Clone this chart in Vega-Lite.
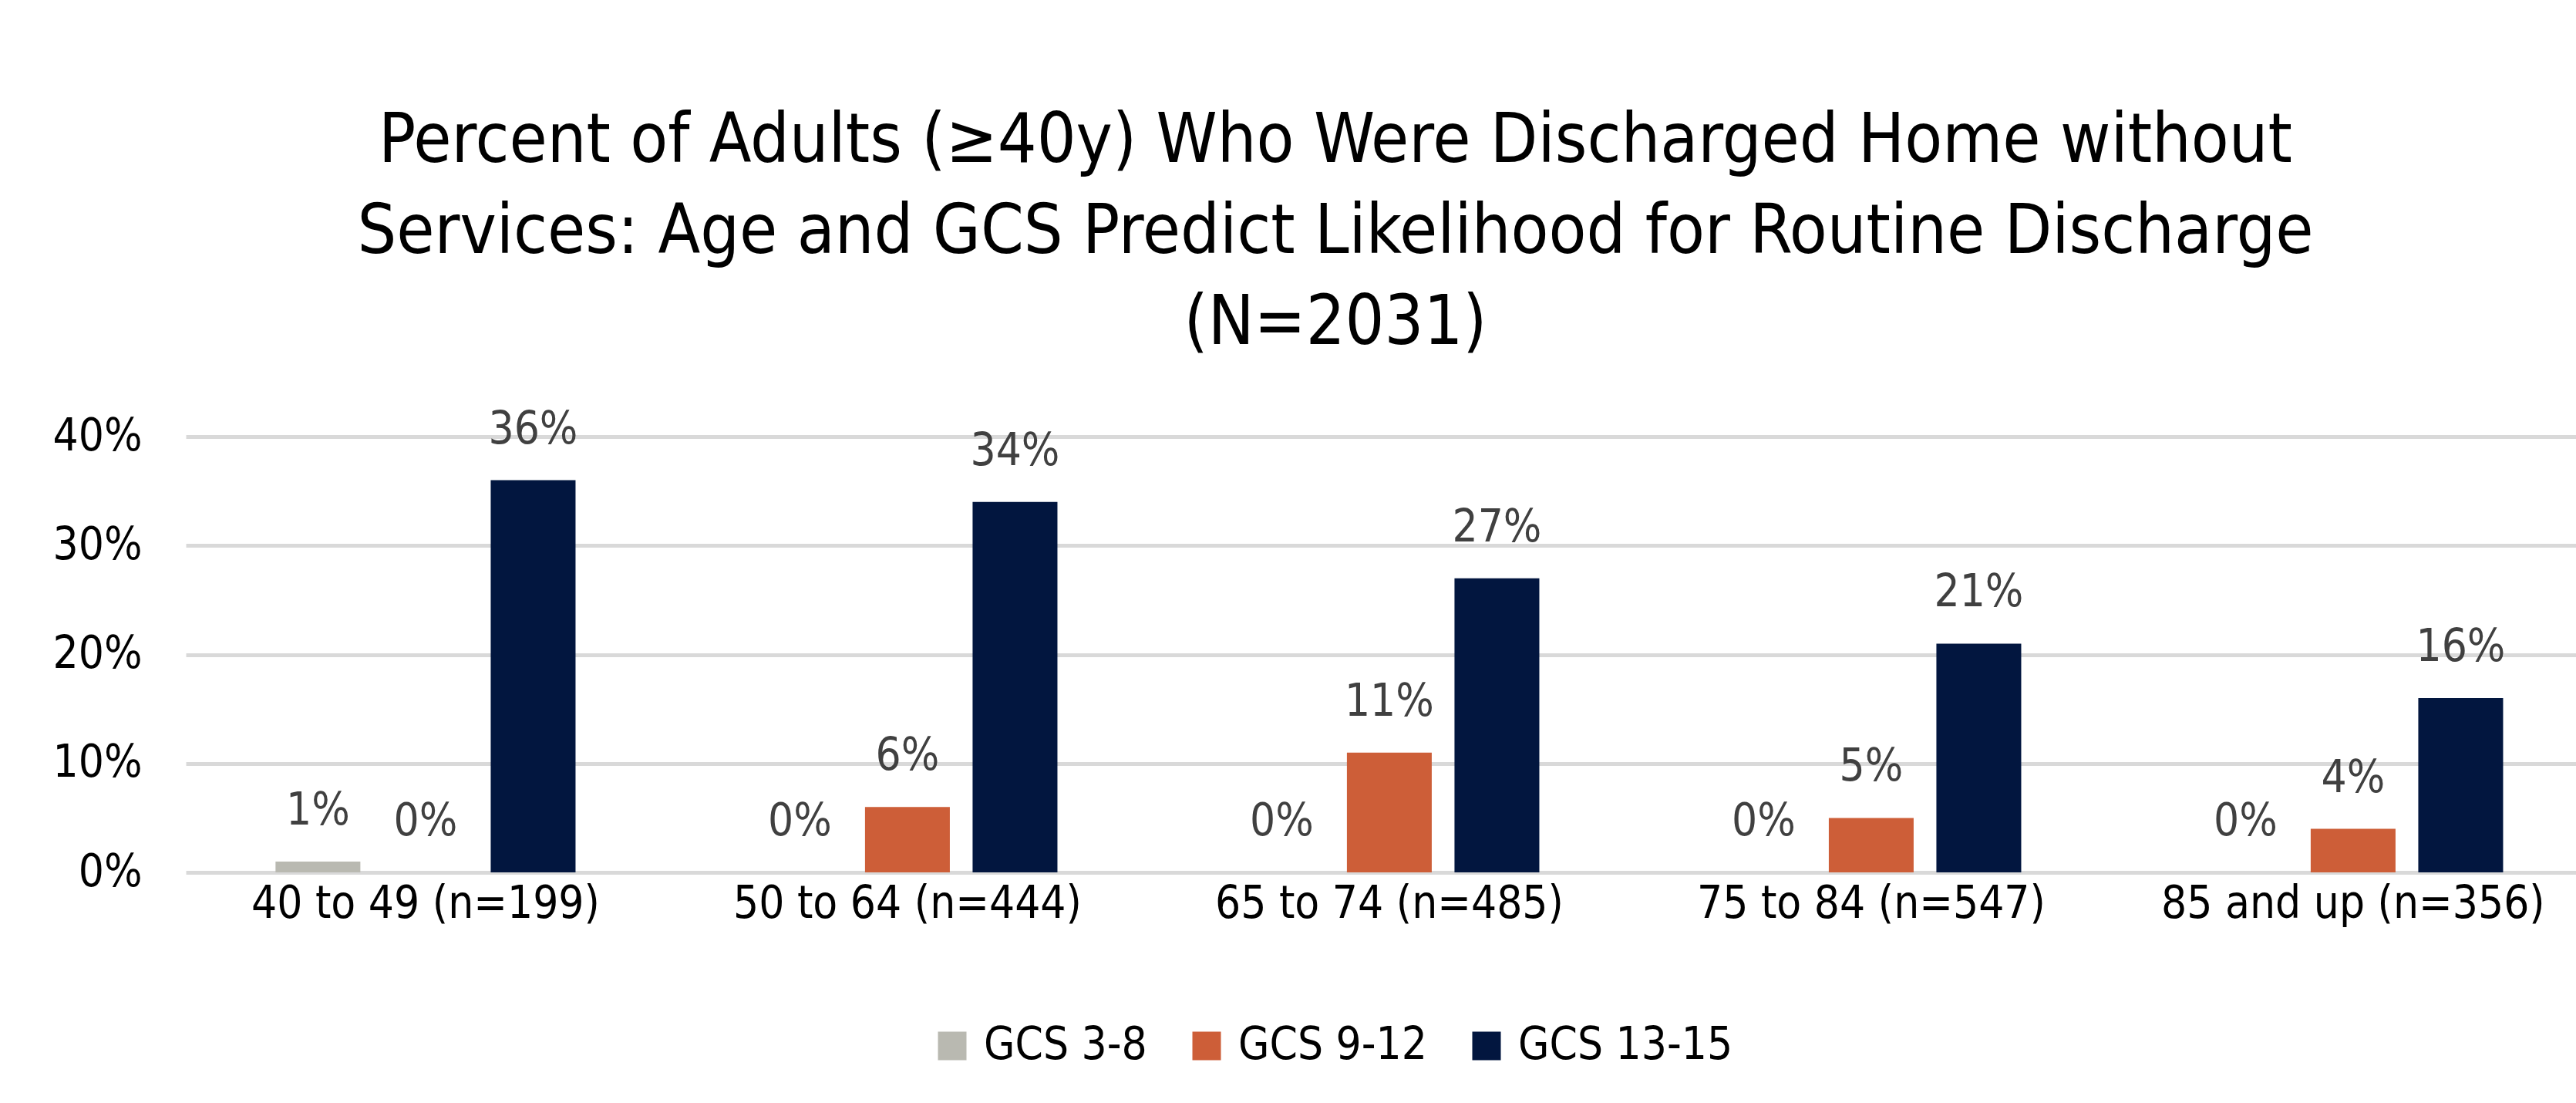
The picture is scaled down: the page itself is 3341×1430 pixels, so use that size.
{
  "$schema": "https://vega.github.io/schema/vega-lite/v6.json",
  "autosize": "none",
  "padding": {"left": 241, "top": 566, "right": 0, "bottom": 299},
  "width": 3100,
  "height": 565,
  "background": "white",
  "title": {
    "text": ["Percent of Adults (≥40y) Who Were Discharged Home without", "Services: Age and GCS Predict Likelihood  for Routine Discharge", "(N=2031)"],
    "font": "Liberation Sans Narrow, DejaVu Sans Condensed, Liberation Sans",
    "fontSize": 89,
    "fontWeight": "normal",
    "color": "#000000",
    "lineHeight": 118,
    "anchor": "middle",
    "frame": "group",
    "dx": -59,
    "offset": 64
  },
  "data": {
    "values": [
      {"age": "40 to 49 (n=199)", "gcs": "GCS 3-8", "pct": 0.01},
      {"age": "40 to 49 (n=199)", "gcs": "GCS 9-12", "pct": 0.0},
      {"age": "40 to 49 (n=199)", "gcs": "GCS 13-15", "pct": 0.36},
      {"age": "50 to 64 (n=444)", "gcs": "GCS 3-8", "pct": 0.0},
      {"age": "50 to 64 (n=444)", "gcs": "GCS 9-12", "pct": 0.06},
      {"age": "50 to 64 (n=444)", "gcs": "GCS 13-15", "pct": 0.34},
      {"age": "65 to 74 (n=485)", "gcs": "GCS 3-8", "pct": 0.0},
      {"age": "65 to 74 (n=485)", "gcs": "GCS 9-12", "pct": 0.11},
      {"age": "65 to 74 (n=485)", "gcs": "GCS 13-15", "pct": 0.27},
      {"age": "75 to 84 (n=547)", "gcs": "GCS 3-8", "pct": 0.0},
      {"age": "75 to 84 (n=547)", "gcs": "GCS 9-12", "pct": 0.05},
      {"age": "75 to 84 (n=547)", "gcs": "GCS 13-15", "pct": 0.21},
      {"age": "85 and up (n=356)", "gcs": "GCS 3-8", "pct": 0.0},
      {"age": "85 and up (n=356)", "gcs": "GCS 9-12", "pct": 0.04},
      {"age": "85 and up (n=356)", "gcs": "GCS 13-15", "pct": 0.16}
    ]
  },
  "encoding": {
    "x": {
      "field": "age", "type": "nominal", "sort": null,
      "scale": {"paddingInner": 0.331, "paddingOuter": 0.1455, "align": 0.56},
      "axis": {
        "title": null, "labelAngle": 0, "ticks": false, "domain": false, "grid": false,
        "labelFont": "Liberation Sans Narrow, DejaVu Sans Condensed, Liberation Sans",
        "labelFontSize": 58, "labelColor": "#000000", "labelPadding": 12,
        "labelBaseline": "top", "labelLimit": 0
      }
    },
    "xOffset": {
      "field": "gcs", "type": "nominal", "sort": ["GCS 3-8", "GCS 9-12", "GCS 13-15"],
      "scale": {"paddingInner": 0.2115, "paddingOuter": 0.104}
    },
    "y": {
      "field": "pct", "type": "quantitative",
      "scale": {"domain": [0, 0.4], "nice": false},
      "axis": {
        "title": null, "format": ".0%", "values": [0, 0.1, 0.2, 0.3, 0.4],
        "ticks": false, "domain": false, "grid": true,
        "gridColor": "#D9D9D9", "gridWidth": 5,
        "labelFont": "Liberation Sans Narrow, DejaVu Sans Condensed, Liberation Sans",
        "labelFontSize": 58, "labelColor": "#000000", "labelPadding": 57
      }
    }
  },
  "layer": [
    {
      "mark": {"type": "bar"},
      "encoding": {
        "color": {
          "field": "gcs", "type": "nominal",
          "sort": ["GCS 3-8", "GCS 9-12", "GCS 13-15"],
          "scale": {"domain": ["GCS 3-8", "GCS 9-12", "GCS 13-15"], "range": ["#B9B9B1", "#CD5E38", "#02163F"]},
          "legend": {
            "title": null, "orient": "none", "direction": "horizontal",
            "legendX": 965, "legendY": 761,
            "symbolType": "square", "symbolSize": 1369, "symbolStrokeWidth": 0,
            "labelFont": "Liberation Sans Narrow, DejaVu Sans Condensed, Liberation Sans",
            "labelFontSize": 58, "labelColor": "#000000", "labelLimit": 0,
            "labelOffset": 12, "columnPadding": 48, "padding": 0
          }
        }
      }
    },
    {
      "mark": {
        "type": "text", "baseline": "alphabetic", "dy": -48,
        "font": "Liberation Sans Narrow, DejaVu Sans Condensed, Liberation Sans",
        "fontSize": 58, "color": "#404040"
      },
      "encoding": {
        "text": {"field": "pct", "type": "quantitative", "format": ".0%"}
      }
    }
  ],
  "config": {
    "view": {"stroke": null},
    "bar": {"discreteBandSize": {"band": 1}}
  }
}
